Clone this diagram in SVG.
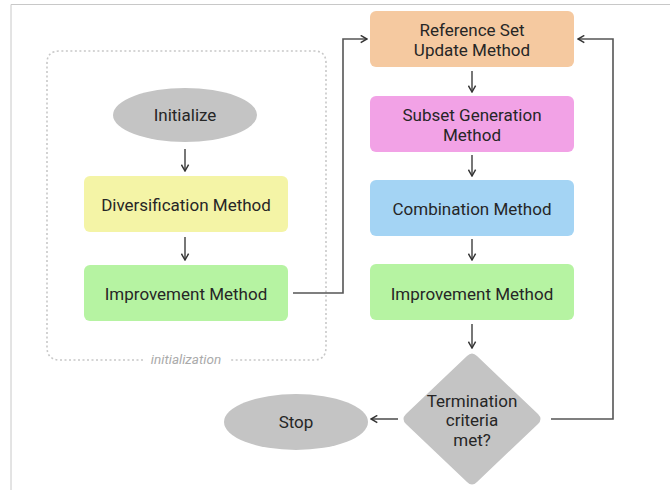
<svg xmlns="http://www.w3.org/2000/svg" width="670" height="490" viewBox="0 0 670 490">
  <style>
    text { font-family: Roboto, "Noto Sans", "Liberation Sans", sans-serif; font-size: 17px; font-weight: 400; fill: #262626; text-anchor: middle; dominant-baseline: central; }
    .box { stroke: none; }
    .conn { fill: none; stroke: #555; stroke-width: 1.6; }
    .gray { fill: #c4c4c4; }
    .group-label { font-size: 13.5px; font-style: italic; fill: #aaa; }
  </style>
  <defs>
    <marker id="arrow" viewBox="0 0 10 10" refX="9" refY="5" markerWidth="9" markerHeight="9" markerUnits="userSpaceOnUse" orient="auto">
      <path d="M2,1 L9,5 L2,9" fill="none" stroke="#333" stroke-width="1.6"/>
    </marker>
  </defs>

  <rect width="670" height="490" fill="#fff"/>
  <!-- page frame -->
  <path d="M11,490 V4.5 H670" fill="none" stroke="#c8c8c8" stroke-width="1"/>

  <!-- initialization group -->
  <g id="initialization">
    <path d="M143,360 H60 Q47,360 47,347 V63 Q47,51 60,51 H314 Q326,51 326,63 V347 Q326,360 314,360 H230" fill="none" stroke="#c8c8c8" stroke-width="1.6" stroke-dasharray="2 2.5"/>
    <text class="group-label" x="186" y="359">initialization</text>
  </g>

  <g id="initialize">
    <ellipse class="gray" cx="185" cy="115" rx="72" ry="27"/>
    <text x="185" y="115">Initialize</text>
  </g>
  <g id="diversification">
    <rect class="box" x="84" y="176" width="204" height="56" rx="6" fill="#f4f4a6"/>
    <text x="186" y="205">Diversification Method</text>
  </g>
  <g id="improvement-init">
    <rect class="box" x="84" y="265" width="204" height="56" rx="6" fill="#b6f3a2"/>
    <text x="186" y="294">Improvement Method</text>
  </g>

  <g id="refset-update">
    <rect class="box" x="370" y="11" width="204" height="56" rx="6" fill="#f5c9a0"/>
    <text x="472" y="30">Reference Set</text>
    <text x="472" y="50">Update Method</text>
  </g>
  <g id="subset-generation">
    <rect class="box" x="370" y="96" width="204" height="56" rx="6" fill="#f2a2e6"/>
    <text x="472" y="115">Subset Generation</text>
    <text x="472" y="135">Method</text>
  </g>
  <g id="combination">
    <rect class="box" x="370" y="180" width="204" height="56" rx="6" fill="#a4d4f4"/>
    <text x="472" y="209">Combination Method</text>
  </g>
  <g id="improvement-loop">
    <rect class="box" x="370" y="264" width="204" height="56" rx="6" fill="#b6f3a2"/>
    <text x="472" y="294">Improvement Method</text>
  </g>
  <g id="termination">
    <path class="gray" d="M467,356 Q472,351 477,356 L538,414 Q543,419 538,424 L477,482 Q472,487 467,482 L406,424 Q401,419 406,414 Z"/>
    <text x="472" y="401">Termination</text>
    <text x="472" y="420">criteria</text>
    <text x="472" y="440">met?</text>
  </g>
  <g id="stop">
    <ellipse class="gray" cx="296" cy="422" rx="72" ry="28"/>
    <text x="296" y="422">Stop</text>
  </g>

  <!-- connectors -->
  <g id="connectors">
    <path class="conn" d="M185,149 V171" marker-end="url(#arrow)"/>
    <path class="conn" d="M185,237 V260" marker-end="url(#arrow)"/>
    <path class="conn" d="M293,293 H343 V39 H367" marker-end="url(#arrow)"/>
    <path class="conn" d="M472,71 V92" marker-end="url(#arrow)"/>
    <path class="conn" d="M472,155 V176" marker-end="url(#arrow)"/>
    <path class="conn" d="M472,239 V260" marker-end="url(#arrow)"/>
    <path class="conn" d="M472,324 V348" marker-end="url(#arrow)"/>
    <path class="conn" d="M551,419 H613 V39 H578" marker-end="url(#arrow)"/>
    <path class="conn" d="M398,419 H371" marker-end="url(#arrow)"/>
  </g>
</svg>
